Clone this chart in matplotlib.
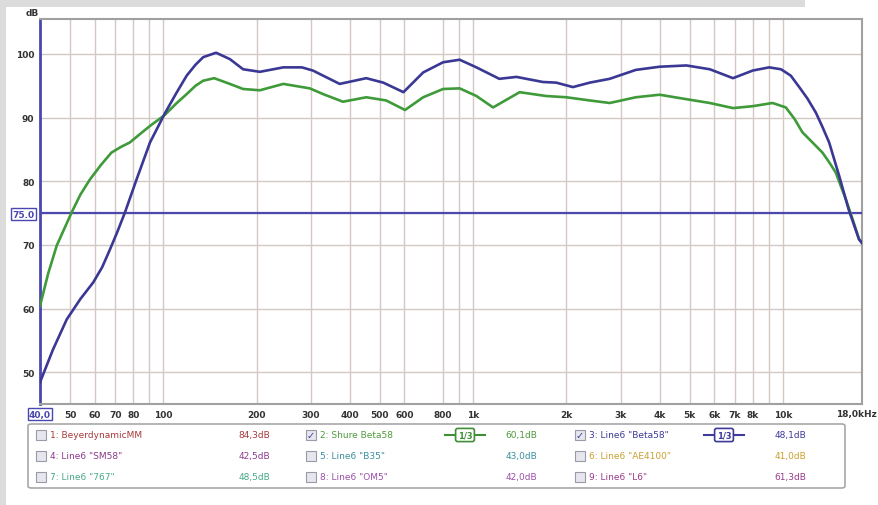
import numpy as np
import matplotlib
matplotlib.use("Agg")
import matplotlib.pyplot as plt
from matplotlib.patches import Rectangle, FancyBboxPatch

# frequency response readings (Hz, dB)
freq_blue = [40, 44, 48.8, 54, 59.4, 63.5, 67.3, 71, 75.2, 82, 90.6, 101, 110, 119, 127, 134.5,
             148, 164, 181, 205, 244, 280, 304, 371, 452, 513, 596, 690, 800, 905, 1025, 1215,
             1380, 1680, 1855, 2100, 2380, 2760, 3350, 4000, 4880, 5810, 6900, 7990, 9030,
             9860, 10600, 11290, 12000, 12770, 13400, 14100, 15180, 16340, 17600, 18000]
db_blue = [48.4, 53.5, 58.3, 61.5, 64.1, 66.5, 69.3, 72.0, 75.1, 80.3, 86.1, 90.6, 93.8, 96.6, 98.3, 99.5,
           100.2, 99.2, 97.6, 97.2, 97.9, 97.9, 97.4, 95.3, 96.2, 95.5, 94.0, 97.1, 98.7, 99.1, 97.9, 96.1,
           96.4, 95.6, 95.5, 94.8, 95.5, 96.1, 97.5, 98.0, 98.2, 97.6, 96.2, 97.4, 97.9,
           97.6, 96.6, 94.8, 93.0, 90.8, 88.6, 86.1, 80.9, 75.4, 70.9, 70.3]

freq_green = [40, 42.5, 45.3, 50.6, 54, 58, 63, 68, 73, 78, 84, 90.6, 101, 110, 119, 127, 134.5,
              146, 164, 181, 205, 244, 297, 328, 380, 452, 524, 603, 690, 800, 905, 1025, 1160,
              1413, 1720, 2000, 2380, 2760, 3350, 4000, 4880, 5810, 6900, 7990, 9260, 10220,
              10900, 11560, 12400, 13420, 14100, 14800, 15950, 16800, 17600, 18000]
db_green = [60.4, 65.5, 69.9, 75.1, 77.9, 80.3, 82.6, 84.5, 85.4, 86.1, 87.4, 88.7, 90.4, 92.2, 93.7, 95.0, 95.8,
            96.2, 95.3, 94.5, 94.3, 95.3, 94.6, 93.7, 92.5, 93.2, 92.7, 91.2, 93.2, 94.5, 94.6, 93.4, 91.6,
            94.0, 93.4, 93.2, 92.7, 92.3, 93.2, 93.6, 92.9, 92.3, 91.5, 91.8, 92.3, 91.6,
            89.8, 87.7, 86.2, 84.5, 83.0, 81.4, 77.2, 74.0, 70.9, 70.3]

x_ticks = [40, 50, 60, 70, 80, 100, 200, 300, 400, 500, 600, 800, 1000, 2000, 3000,
           4000, 5000, 6000, 7000, 8000, 10000]
x_labels = ["40,0", "50", "60", "70", "80", "100", "200", "300", "400", "500", "600", "800",
            "1k", "2k", "3k", "4k", "5k", "6k", "7k", "8k", "10k"]
x_end_label = "18,0kHz"
x_minor = [90, 900, 9000]
y_ticks = [50, 60, 70, 75, 80, 90, 100]
y_labels = ["50", "60", "70", "75.0", "80", "90", "100"]
ref_level = 75.0

legend_rows = [
    [("1: BeyerdynamicMM", "84,3dB", "#a83a3a", False, None),
     ("2: Shure Beta58", "60,1dB", "#4e9a3c", True, "#3f8f35"),
     ('3: Line6 "Beta58"', "48,1dB", "#3d3a98", True, "#3d3a98")],
    [('4: Line6 "SM58"', "42,5dB", "#8a3a8a", False, None),
     ('5: Line6 "B35"', "43,0dB", "#3a8fa0", False, None),
     ('6: Line6 "AE4100"', "41,0dB", "#c8a030", False, None)],
    [('7: Line6 "767"', "48,5dB", "#48a888", False, None),
     ('8: Line6 "OM5"', "42,0dB", "#9a50a8", False, None),
     ('9: Line6 "L6"', "61,3dB", "#9a3a8a", False, None)],
]

W, H = 879, 506
fig = plt.figure(figsize=(W / 100, H / 100), dpi=100)
fig.patch.set_facecolor("white")
fig.add_artist(Rectangle((0, 1 - 8 / H), 805 / W, 8 / H, transform=fig.transFigure,
                         color="#dcdcdc", lw=0, zorder=0))
fig.add_artist(Rectangle((0, 0), 6 / W, 1, transform=fig.transFigure,
                         color="#dcdcdc", lw=0, zorder=0))

ax = fig.add_axes([40 / W, 1 - 405 / H, 822 / W, 385 / H])
ax.set_xscale("log")
ax.set_xlim(40, 18000)
ax.set_ylim(45, 105.5)

grid_c = "#d4c8c4"
ax.set_xticks(x_ticks)
ax.set_xticklabels(x_labels)
ax.set_xticks(x_minor, minor=True)
ax.set_xticklabels([], minor=True)
ax.set_yticks(y_ticks)
ax.set_yticklabels(y_labels)
ax.grid(True, which="both", axis="x", color=grid_c, lw=1.0)
ax.grid(True, axis="y", color=grid_c, lw=1.0)
ax.tick_params(which="both", length=0, labelsize=6.5, labelcolor="#333333", pad=4)
for lab in ax.get_xticklabels() + ax.get_yticklabels():
    lab.set_fontweight("bold")
box_style = dict(boxstyle="square,pad=0.15", fc="white", ec="#4a48b0", lw=1.0)
ax.get_xticklabels()[0].set_bbox(box_style)
ax.get_xticklabels()[0].set_color("#4a48b0")
ax.get_yticklabels()[3].set_bbox(box_style)
ax.get_yticklabels()[3].set_color("#4a48b0")

for side in ["top", "right", "bottom"]:
    ax.spines[side].set_color("#a0a0a0")
    ax.spines[side].set_linewidth(1.5)
ax.spines["left"].set_color("#4a48b0")
ax.spines["left"].set_linewidth(2)

ax.axhline(ref_level, color="#4d48b0", lw=1.6, zorder=3)
ax.plot(freq_green, db_green, color="#3f9a3a", lw=1.9, zorder=4)
ax.plot(freq_blue, db_blue, color="#3a3894", lw=1.9, zorder=5)

fig.text(32 / W, 1 - 13 / H, "dB", fontsize=6.5, fontweight="bold", color="#333333",
         ha="center", va="center")
fig.text(877 / W, 1 - 414 / H, x_end_label, fontsize=6.5, fontweight="bold", color="#333333",
         ha="right", va="center")

# legend panel
fig.add_artist(FancyBboxPatch((28 / W, 1 - 489 / H), 817 / W, 64 / H,
                              boxstyle="round,pad=0,rounding_size=0.004",
                              transform=fig.transFigure, fc="white", ec="#a8a8a8", lw=1.2))
col_x = [(36, 270), (306, 537), (575, 806)]
icon_x = [None, 465, 724]
row_y = [436, 457, 478]
for r, row in enumerate(legend_rows):
    for c, (name, val, color, checked, icon_c) in enumerate(row):
        x0, xv = col_x[c]
        y = 1 - row_y[r] / H
        fig.add_artist(Rectangle((x0 / W, y - 5 / H), 10 / W, 10 / H, transform=fig.transFigure,
                                 fc="#e6e6ee", ec="#9a9aa8", lw=0.8))
        if checked:
            fig.text((x0 + 5) / W, y, "\u2713", fontsize=7, color="#3a3a9a",
                     ha="center", va="center", fontweight="bold")
        fig.text((x0 + 14) / W, y, name, fontsize=6.5, color=color, ha="left", va="center")
        fig.text(xv / W, y, val, fontsize=6.5, color=color, ha="right", va="center")
        if icon_c:
            ix = icon_x[c]
            fig.add_artist(plt.Line2D([(ix - 20) / W, (ix + 20) / W], [y, y],
                                      transform=fig.transFigure, color=icon_c, lw=1.5))
            fig.text(ix / W, y, "1/3", fontsize=6, color=icon_c, ha="center", va="center",
                     fontweight="bold",
                     bbox=dict(boxstyle="round,pad=0.25", fc="white", ec=icon_c, lw=1.2))

fig.savefig("out.png", dpi=100)
